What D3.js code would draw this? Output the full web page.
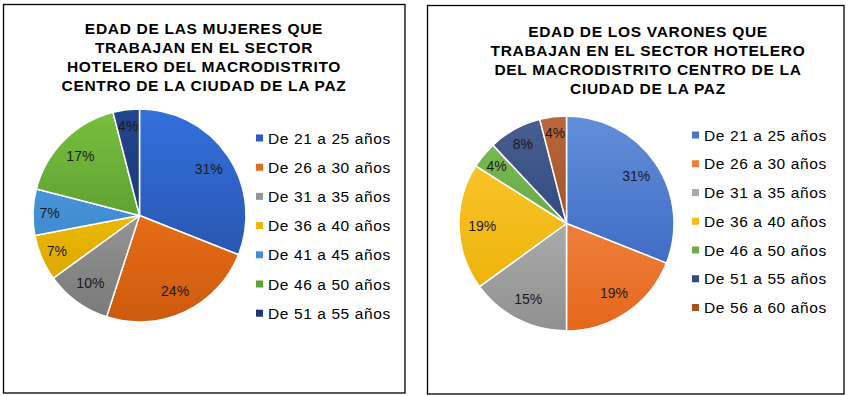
<!DOCTYPE html>
<html>
<head>
<meta charset="utf-8">
<script src="https://cdn.jsdelivr.net/npm/d3@7"></script>
<style>
  body { margin: 0; background: #fff; }
  text { font-family: "Liberation Sans", Arial, sans-serif; fill: #000; }
</style>
</head>
<body>
<div id="chart"></div>
<script>
// data: percentage per age group, as shown on the labels
var womenTitle = ["EDAD DE LAS MUJERES QUE", "TRABAJAN EN EL SECTOR", "HOTELERO DEL MACRODISTRITO", "CENTRO DE LA CIUDAD DE LA PAZ"];
var womenGroups = ["De 21 a 25 años", "De 26 a 30 años", "De 31 a 35 años", "De 36 a 40 años", "De 41 a 45 años", "De 46 a 50 años", "De 51 a 55 años"];
var womenValues = [31, 24, 10, 7, 7, 17, 4];
var womenTop = ["#3370dc", "#ff7f1f", "#b0b0b0", "#ffd20a", "#50a4ec", "#78c03e", "#23448e"];
var womenBottom = ["#244c9e", "#cc5a0e", "#787878", "#d69e00", "#377abb", "#488428", "#142c64"];

var menTitle = ["EDAD DE LOS VARONES QUE", "TRABAJAN EN EL SECTOR HOTELERO", "DEL MACRODISTRITO CENTRO DE LA", "CIUDAD DE LA PAZ"];
var menGroups = ["De 21 a 25 años", "De 26 a 30 años", "De 31 a 35 años", "De 36 a 40 años", "De 46 a 50 años", "De 51 a 55 años", "De 56 a 60 años"];
var menValues = [31, 19, 15, 19, 4, 8, 4];
var menTop = ["#638ed8", "#f5985f", "#c4c4c4", "#ffca35", "#7fbc58", "#4a5f90", "#b8683f"];
var menBottom = ["#305ebc", "#e6661a", "#909090", "#e8ae00", "#549a36", "#1c3772", "#923a08"];

//////////////////////////////////////////////////////////////////////////////

var width = 852, height = 396;

var svg = d3.select("#chart")
    .append("svg")
    .attr("width", width)
    .attr("height", height);

var defs = svg.append("defs");

var panels = [
    { id: "w", box: [3.5, 4.5, 401.5, 388.5], title: womenTitle, titleX: 204, titleY: 34,
      cx: 139.5, cy: 215.5, r: 106.5, legX: 256, legY: 138, legStep: 29.2,
      groups: womenGroups, values: womenValues, top: womenTop, bottom: womenBottom },
    { id: "m", box: [427.5, 5.5, 416.5, 388.5], title: menTitle, titleX: 648, titleY: 37,
      cx: 566.5, cy: 223.5, r: 107.5, legX: 692, legY: 135, legStep: 28.75,
      groups: menGroups, values: menValues, top: menTop, bottom: menBottom }
];

panels.forEach(function(p) {
    var g = svg.append("g");

    g.append("rect")
        .attr("x", p.box[0]).attr("y", p.box[1])
        .attr("width", p.box[2]).attr("height", p.box[3])
        .attr("fill", "#fff")
        .attr("stroke", "#000")
        .attr("stroke-width", 1.3);

    g.append("text")
        .attr("text-anchor", "middle")
        .style("font-weight", "bold")
        .style("font-size", "15.5px")
        .style("letter-spacing", "0.7px")
        .selectAll("tspan")
        .data(p.title)
        .enter()
        .append("tspan")
        .attr("x", p.titleX)
        .attr("y", function(d, i) { return p.titleY + i * 19; })
        .text(function(d) { return d; });

    // vertical gradients per slice colour (coordinates relative to pie centre)
    p.top.forEach(function(c, i) {
        var lg = defs.append("linearGradient")
            .attr("id", "grad-" + p.id + i)
            .attr("gradientUnits", "userSpaceOnUse")
            .attr("x1", 0).attr("x2", 0)
            .attr("y1", -p.r).attr("y2", p.r);
        lg.append("stop").attr("offset", "0%").attr("stop-color", c);
        lg.append("stop").attr("offset", "100%").attr("stop-color", p.bottom[i]);
    });

    var total = d3.sum(p.values);
    var pie = d3.pie().sort(null).value(function(d) { return d; });
    var arcs = pie(p.values);
    var arc = d3.arc().innerRadius(0).outerRadius(p.r);

    var pg = g.append("g")
        .attr("transform", "translate(" + p.cx + "," + p.cy + ")");

    pg.selectAll("path")
        .data(arcs)
        .enter()
        .append("path")
        .attr("d", arc)
        .attr("fill", function(d, i) { return "url(#grad-" + p.id + i + ")"; })
        .attr("stroke", "#fff")
        .attr("stroke-width", 1.5)
        .attr("stroke-linejoin", "round");

    pg.selectAll("text")
        .data(arcs)
        .enter()
        .append("text")
        .attr("transform", function(d) {
            var share = d.value / total;
            var lr = p.r * (share < 0.09 ? 0.845 : 0.785);
            var a = (d.startAngle + d.endAngle) / 2;
            return "translate(" + (Math.sin(a) * lr) + "," + (-Math.cos(a) * lr) + ")";
        })
        .attr("text-anchor", "middle")
        .attr("dy", "0.36em")
        .style("font-size", "14px")
        .style("fill", "#1a1a1a")
        .text(function(d) { return Math.round(d.value / total * 100) + "%"; });

    var leg = g.append("g")
        .selectAll("g")
        .data(p.groups)
        .enter()
        .append("g")
        .attr("transform", function(d, i) {
            return "translate(" + p.legX + "," + (p.legY + i * p.legStep) + ")";
        });

    leg.append("rect")
        .attr("x", 0).attr("y", -3.5)
        .attr("width", 7).attr("height", 7)
        .attr("fill", function(d, i) { return d3.interpolateRgb(p.top[i], p.bottom[i])(0.5); });

    leg.append("text")
        .attr("x", 12)
        .attr("dy", "0.36em")
        .style("font-size", "15.5px")
        .style("letter-spacing", "0.6px")
        .text(function(d) { return d; });
});
</script>
</body>
</html>
